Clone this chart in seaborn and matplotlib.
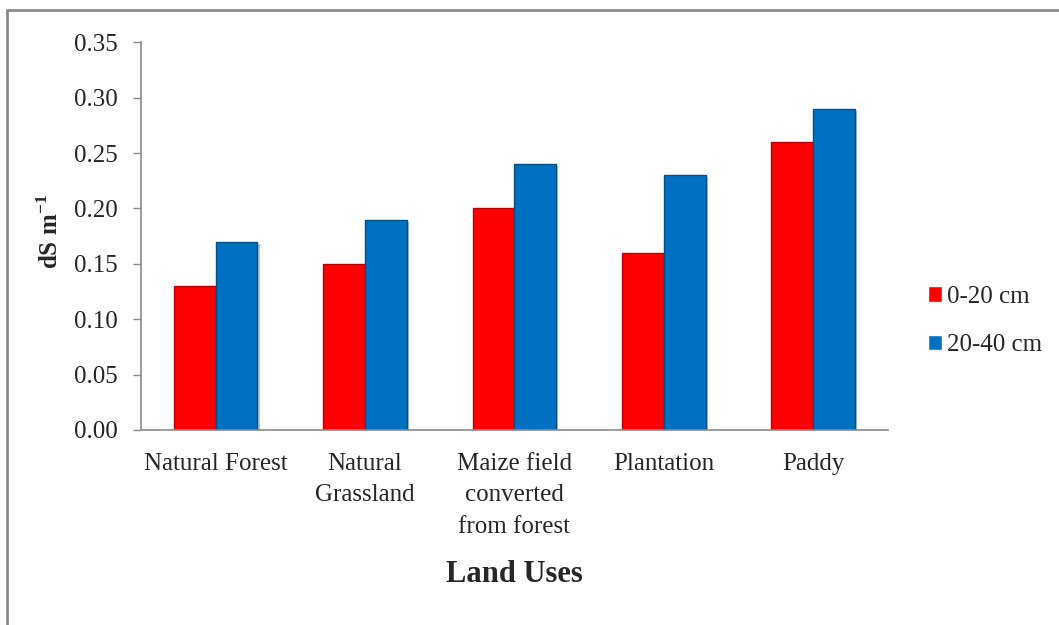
import matplotlib
matplotlib.use("Agg")
import matplotlib.pyplot as plt
import matplotlib.patheffects as pe
from matplotlib.lines import Line2D
import seaborn as sns
import pandas as pd

# chart values
land_uses = ["Natural Forest", "Natural\nGrassland", "Maize field\nconverted\nfrom forest",
             "Plantation", "Paddy"]
depth_0_20 = [0.13, 0.15, 0.20, 0.16, 0.26]
depth_20_40 = [0.17, 0.19, 0.24, 0.23, 0.29]
depth_labels = ["0-20 cm", "20-40 cm"]
y_ticks = [0.00, 0.05, 0.10, 0.15, 0.20, 0.25, 0.30, 0.35]

data = pd.DataFrame({
    "land_use": land_uses * 2,
    "depth": [depth_labels[0]] * len(land_uses) + [depth_labels[1]] * len(land_uses),
    "ec": depth_0_20 + depth_20_40,
})

sns.set_style("white")
plt.rcParams["font.family"] = ["Liberation Serif", "DejaVu Serif"]
plt.rcParams["mathtext.fontset"] = "custom"
plt.rcParams["mathtext.rm"] = "Liberation Serif"
plt.rcParams["mathtext.bf"] = "Liberation Serif:bold"

fig = plt.figure(figsize=(10.59, 6.25), dpi=100)
ax = fig.add_axes([0.1331, 0.312, 0.7054, 0.6203])

palette = {"0-20 cm": "#FF0000", "20-40 cm": "#0070C0"}
sns.barplot(data=data, x="land_use", y="ec", hue="depth", palette=palette,
            width=0.56, saturation=1, errorbar=None, ax=ax)

# bevel-ish look: darker outline plus a soft shadow
edge = {"#FF0000": "#B80000", "#0070C0": "#004F8A"}
for container, col in zip(ax.containers, ["#FF0000", "#0070C0"]):
    for bar in container:
        bar.set_edgecolor(edge[col])
        bar.set_linewidth(1.0)
        bar.set_path_effects([pe.SimplePatchShadow(offset=(1.5, -1.5), alpha=0.25), pe.Normal()])

ax.set_ylim(0, 0.35)
ax.set_xlim(-0.5, len(land_uses) - 0.5)
ax.set_yticks(y_ticks)
ax.set_yticklabels([f"{t:.2f}" for t in y_ticks], fontsize=18)
ax.tick_params(axis="y", which="major", direction="out", length=6, width=1, color="#8c8c8c",
               left=True, pad=11)
ax.tick_params(axis="x", bottom=False, pad=13)
for lbl in ax.get_xticklabels():
    lbl.set_fontsize(18)
    lbl.set_linespacing(1.55)
    lbl.set_verticalalignment("top")

for side in ["top", "right"]:
    ax.spines[side].set_visible(False)
for side in ["left", "bottom"]:
    ax.spines[side].set_color("#8c8c8c")
    ax.spines[side].set_linewidth(1.2)

ax.set_xlabel("")
ax.set_ylabel("")
fig.text(514 / 1059, 1 - 575 / 625, "Land Uses", fontsize=22, fontweight="bold",
         ha="center", va="center")
fig.text(50 / 1059, 1 - 232 / 625, r"dS m$^{\mathbf{-1}}$", fontsize=18, fontweight="bold",
         rotation=90, ha="center", va="center")

leg = ax.legend(loc="center left", bbox_to_anchor=(918 / 1059, 1 - 321 / 625),
                bbox_transform=fig.transFigure, frameon=False, fontsize=18,
                handlelength=0.55, handleheight=0.55, handletextpad=0.2, labelspacing=1.05,
                borderaxespad=0)

# outer chart border (left and top only visible)
fig.add_artist(Line2D([7 / 1059, 7 / 1059], [0, 1 - 10 / 625], transform=fig.transFigure,
                      color="#8c8c8c", linewidth=2))
fig.add_artist(Line2D([7 / 1059, 1], [1 - 10 / 625, 1 - 10 / 625], transform=fig.transFigure,
                      color="#8c8c8c", linewidth=2))

fig.savefig("out.png", dpi=100)
